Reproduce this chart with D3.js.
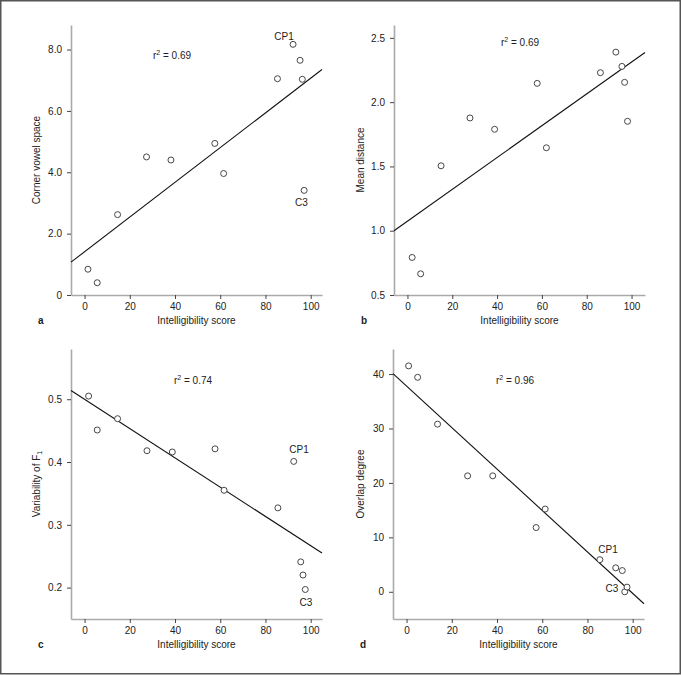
<!DOCTYPE html>
<html><head><meta charset="utf-8">
<script src="https://cdn.jsdelivr.net/npm/d3@7"></script>
<style>
html,body{margin:0;padding:0;background:#fff;}
text{font-family:"Liberation Sans",Arial,sans-serif;fill:#222;}
</style></head>
<body><svg id="c" width="681" height="675"></svg>
<script>
// Intelligibility scores (x) per speaker, one array per panel
const xA = [1.5, 5.6, 14.6, 27.4, 38.2, 57.6, 61.5, 85.3, 92.2, 95.3, 96.3, 97.1];
const yA = [0.84, 0.40, 2.62, 4.50, 4.40, 4.94, 3.96, 7.05, 8.17, 7.65, 7.03, 3.41];
const xB = [2.1, 5.9, 15.0, 27.9, 38.9, 57.9, 62.0, 86.1, 93.0, 95.7, 96.9, 98.2];
const yB = [0.792, 0.665, 1.505, 1.877, 1.789, 2.146, 1.645, 2.229, 2.389, 2.278, 2.154, 1.851];
const xC = [1.8, 5.6, 14.6, 27.6, 38.8, 57.7, 61.7, 85.5, 92.5, 95.6, 96.6, 97.6];
const yC = [0.505, 0.451, 0.469, 0.418, 0.416, 0.421, 0.355, 0.327, 0.401, 0.241, 0.220, 0.197];
const xD = [0.9, 4.9, 13.7, 27.0, 38.1, 57.3, 61.3, 85.5, 92.5, 95.4, 96.5, 97.5];
const yD = [41.5, 39.4, 30.8, 21.3, 21.3, 11.8, 15.2, 5.9, 4.4, 3.9, 0.0, 0.86];
// regression line endpoints [x, y]
const fitA = [[-6, 1.07], [105, 7.35]];
const fitB = [[-6, 1.00], [106, 2.386]];
const fitC = [[-6, 0.514], [105, 0.255]];
const fitD = [[-6, 40.06], [105, -2.2]];
// tick labels
const xTicks = [0, 20, 40, 60, 80, 100];
const yTicksA = [0, 2, 4, 6, 8];
const yTicksB = [0.5, 1.0, 1.5, 2.0, 2.5];
const yTicksC = [0.2, 0.3, 0.4, 0.5];
const yTicksD = [0, 10, 20, 30, 40];
const r2 = ["0.69", "0.69", "0.74", "0.96"];
const panelLetters = ["a", "b", "c", "d"];
const yLabels = ["Corner vowel space", "Mean distance", "Variability of F", "Overlap degree"];

const svg = d3.select("#c");
svg.append("rect").attr("x",0.75).attr("y",0.75).attr("width",679.5).attr("height",673)
  .attr("fill","none").attr("stroke","#555").attr("stroke-width",1.5);

const W = 251, H = 270;
const panels = [
  {left:71, top:25, xd:[-6,105], yd:[0,8.8], xs:xA, ys:yA, fit:fitA, yt:yTicksA, fmt:d=>d===0?"0":d3.format(".1f")(d),
   r2pos:[172,59], ylx:40, labels:[["CP1",284,39.5],["C3",301.5,206]]},
  {left:394, top:25, xd:[-6,106], yd:[0.5,2.6], xs:xB, ys:yB, fit:fitB, yt:yTicksB, fmt:d3.format(".1f"),
   r2pos:[520,45.5], ylx:363.5, labels:[]},
  {left:71, top:349, xd:[-6,105], yd:[0.15,0.58], xs:xC, ys:yC, fit:fitC, yt:yTicksC, fmt:d3.format(".1f"),
   r2pos:[193,384], ylx:40, labels:[["CP1",299,452.5],["C3",306,606]]},
  {left:393, top:349, xd:[-6,105], yd:[-5,44.6], xs:xD, ys:yD, fit:fitD, yt:yTicksD, fmt:d3.format("d"),
   r2pos:[515,384], ylx:363.5, labels:[["CP1",608,552.5],["C3",612,591.5]]}
];

panels.forEach((p,i)=>{
  const x = d3.scaleLinear().domain(p.xd).range([p.left, p.left+W]);
  const y = d3.scaleLinear().domain(p.yd).range([p.top+H, p.top]);
  const g = svg.append("g");
  // axes
  const gx = g.append("g").attr("transform",`translate(0,${p.top+H})`)
    .call(d3.axisBottom(x).tickValues(xTicks).tickSize(4).tickPadding(4).tickSizeOuter(0));
  const gy = g.append("g").attr("transform",`translate(${p.left},0)`)
    .call(d3.axisLeft(y).tickValues(p.yt).tickFormat(p.fmt).tickSize(4).tickPadding(5).tickSizeOuter(0));
  [gx,gy].forEach(a=>{
    a.select(".domain").attr("stroke","#aaa").attr("stroke-width",1.6);
    a.selectAll(".tick line").attr("stroke","#444").attr("stroke-width",1);
    a.selectAll(".tick text").attr("font-size",10).attr("fill","#222")
      .attr("font-family","'Liberation Sans',Arial,sans-serif");
  });
  // regression line
  g.append("line").attr("x1",x(p.fit[0][0])).attr("y1",y(p.fit[0][1]))
    .attr("x2",x(p.fit[1][0])).attr("y2",y(p.fit[1][1]))
    .attr("stroke","#111").attr("stroke-width",1.1);
  // points
  g.selectAll("circle").data(p.xs.map((v,k)=>[v,p.ys[k]])).join("circle")
    .attr("cx",d=>x(d[0])).attr("cy",d=>y(d[1])).attr("r",3)
    .attr("fill","#fff").attr("stroke","#333").attr("stroke-width",0.9);
  // r^2
  const t = g.append("text").attr("x",p.r2pos[0]).attr("y",p.r2pos[1]).attr("text-anchor","middle").attr("font-size",10);
  t.append("tspan").text("r");
  t.append("tspan").attr("font-size",7).attr("dy",-4).text("2");
  t.append("tspan").attr("dy",4).text(" = "+r2[i]);
  // annotations
  p.labels.forEach(l=>g.append("text").attr("x",l[1]).attr("y",l[2]).attr("text-anchor","middle").attr("font-size",10).text(l[0]));
  // x label
  g.append("text").attr("x",p.left+W/2).attr("y",p.top+H+29).attr("text-anchor","middle").attr("font-size",10).text("Intelligibility score");
  // y label
  const yl = g.append("text").attr("transform",`translate(${p.ylx},${p.top+H/2}) rotate(-90)`).attr("text-anchor","middle").attr("font-size",10);
  yl.append("tspan").text(yLabels[i]);
  if(i===2){ yl.append("tspan").attr("font-size",7).attr("dy",2).text("1"); }
  // panel letter
  g.append("text").attr("x",p.left-33).attr("y",p.top+H+29).attr("font-size",10).attr("font-weight","bold").text(panelLetters[i]);
});
</script></body></html>
